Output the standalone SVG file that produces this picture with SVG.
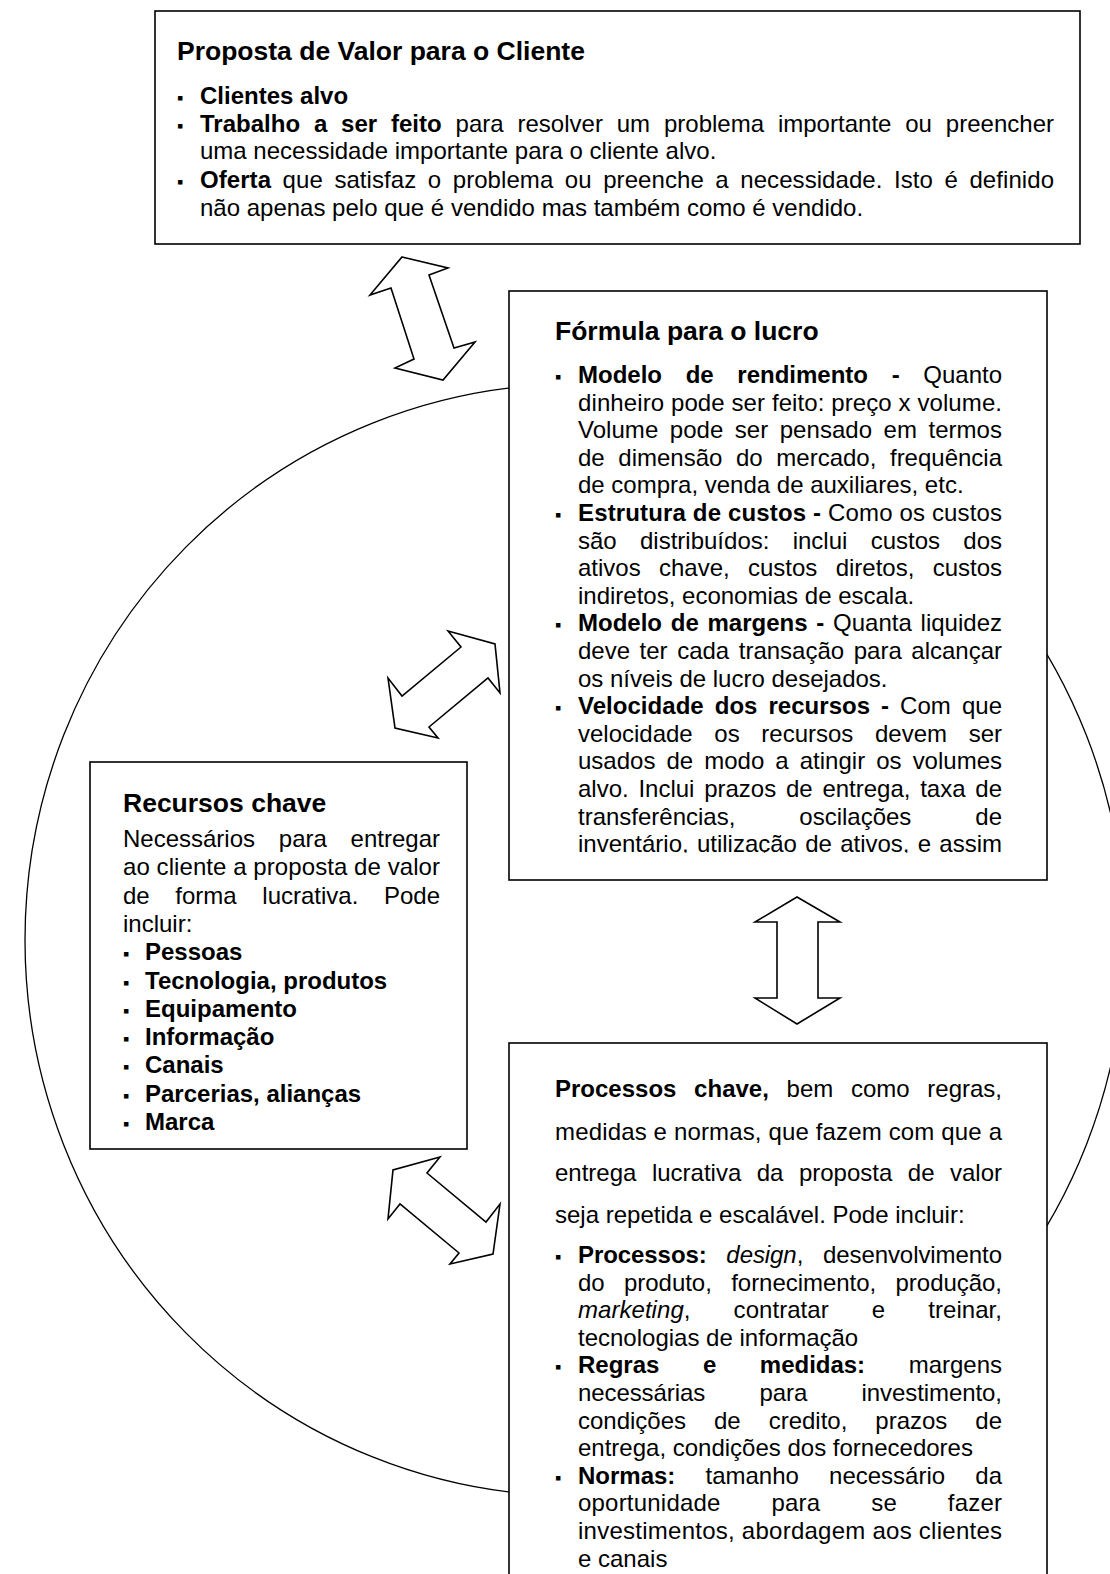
<svg xmlns="http://www.w3.org/2000/svg" width="1110" height="1574" viewBox="0 0 1110 1574">
  <style>
    .t{font-family:"Liberation Sans",Arial,sans-serif;font-size:24px;fill:#000}
    .b{font-weight:bold}
    .i{font-style:italic}
    .h{font-family:"Liberation Sans",Arial,sans-serif;font-size:26.5px;font-weight:bold;fill:#000}
    .bul{font-family:"Liberation Sans","DejaVu Sans",sans-serif;font-size:18px;fill:#000}
    .box{fill:#fff;stroke:#000;stroke-width:1.6}
    .arr{fill:#fff;stroke:#000;stroke-width:1.6;stroke-linejoin:miter}
    .ring{fill:none;stroke:#000;stroke-width:1.3}
  </style>
  <defs>
    <!-- the profit-formula text box clips its last line -->
    <clipPath id="clipFormula"><rect x="509" y="291" width="538" height="561.8"/></clipPath>
  </defs>

  <rect width="1110" height="1574" fill="#fff"/>

  <!-- large cycle behind the boxes -->
  <g id="cycle">
    <ellipse class="ring" cx="575" cy="940" rx="550" ry="556"/>
  </g>

  <!-- Customer value proposition -->
  <g id="node-proposta">
    <rect class="box" x="155" y="11" width="925" height="233" stroke-width="2"/>
    <text class="h" x="177" y="60">Proposta de Valor para o Cliente</text>
    <text class="bul" x="177" y="104">▪</text>
    <text class="t b" x="200" y="104">Clientes alvo</text>
    <text class="bul" x="177" y="131.5">▪</text>
    <text class="t" x="200" y="131.5" word-spacing="7.1" textLength="854" lengthAdjust="spacing"><tspan class="b">Trabalho a ser feito</tspan> para resolver um problema importante ou preencher</text>
    <text class="t" x="200" y="159">uma necessidade importante para o cliente alvo.</text>
    <text class="bul" x="177" y="188">▪</text>
    <text class="t" x="200" y="188" word-spacing="4.8" textLength="854" lengthAdjust="spacing"><tspan class="b">Oferta</tspan> que satisfaz o problema ou preenche a necessidade. Isto é definido</text>
    <text class="t" x="200" y="215.5">não apenas pelo que é vendido mas também como é vendido.</text>
  </g>

  <!-- Profit formula -->
  <g id="node-formula">
    <rect class="box" x="509" y="291" width="538" height="589"/>
    <text class="h" x="555" y="340">Fórmula para o lucro</text>
    <g clip-path="url(#clipFormula)">
      <text class="bul" x="555" y="383">▪</text>
      <text class="t" x="578" y="383" word-spacing="17" textLength="424" lengthAdjust="spacing"><tspan class="b">Modelo de rendimento -</tspan> Quanto</text>
      <text class="t" x="578" y="410.6" textLength="424" lengthAdjust="spacing">dinheiro pode ser feito: preço x volume.</text>
      <text class="t" x="578" y="438.2" word-spacing="4.8" textLength="424" lengthAdjust="spacing">Volume pode ser pensado em termos</text>
      <text class="t" x="578" y="465.8" word-spacing="7" textLength="424" lengthAdjust="spacing">de dimensão do mercado, frequência</text>
      <text class="t" x="578" y="493.4">de compra, venda de auxiliares, etc.</text>
      <text class="bul" x="555" y="521">▪</text>
      <text class="t" x="578" y="521" textLength="424" lengthAdjust="spacing"><tspan class="b">Estrutura de custos -</tspan> Como os custos</text>
      <text class="t" x="578" y="548.6" word-spacing="16.6" textLength="424" lengthAdjust="spacing">são distribuídos: inclui custos dos</text>
      <text class="t" x="578" y="576.2" word-spacing="11.6" textLength="424" lengthAdjust="spacing">ativos chave, custos diretos, custos</text>
      <text class="t" x="578" y="603.8">indiretos, economias de escala.</text>
      <text class="bul" x="555" y="631.4">▪</text>
      <text class="t" x="578" y="631.4" word-spacing="2.1" textLength="424" lengthAdjust="spacing"><tspan class="b">Modelo de margens -</tspan> Quanta liquidez</text>
      <text class="t" x="578" y="659" word-spacing="2.9" textLength="424" lengthAdjust="spacing">deve ter cada transação para alcançar</text>
      <text class="t" x="578" y="686.6">os níveis de lucro desejados.</text>
      <text class="bul" x="555" y="714.2">▪</text>
      <text class="t" x="578" y="714.2" word-spacing="4.3" textLength="424" lengthAdjust="spacing"><tspan class="b">Velocidade dos recursos -</tspan> Com que</text>
      <text class="t" x="578" y="741.8" word-spacing="15" textLength="424" lengthAdjust="spacing">velocidade os recursos devem ser</text>
      <text class="t" x="578" y="769.4" word-spacing="4.4" textLength="424" lengthAdjust="spacing">usados de modo a atingir os volumes</text>
      <text class="t" x="578" y="797" word-spacing="3.1" textLength="424" lengthAdjust="spacing">alvo. Inclui prazos de entrega, taxa de</text>
      <text class="t" x="578" y="824.6" word-spacing="57.3" textLength="424" lengthAdjust="spacing">transferências, oscilações de</text>
      <text class="t" x="578" y="852.2" word-spacing="1.6" textLength="424" lengthAdjust="spacing">inventário, utilização de ativos, e assim</text>
    </g>
  </g>

  <!-- Key resources -->
  <g id="node-recursos">
    <rect class="box" x="90" y="762" width="377" height="387"/>
    <text class="h" x="123" y="812">Recursos chave</text>
    <text class="t" x="123" y="847" word-spacing="17.1" textLength="317" lengthAdjust="spacing">Necessários para entregar</text>
    <text class="t" x="123" y="875.3" textLength="317" lengthAdjust="spacing">ao cliente a proposta de valor</text>
    <text class="t" x="123" y="903.6" word-spacing="19" textLength="317" lengthAdjust="spacing">de forma lucrativa. Pode</text>
    <text class="t" x="123" y="931.9">incluir:</text>
    <text class="bul" x="123" y="960.2">▪</text>
    <text class="t b" x="145" y="960.2">Pessoas</text>
    <text class="bul" x="123" y="988.5">▪</text>
    <text class="t b" x="145" y="988.5">Tecnologia, produtos</text>
    <text class="bul" x="123" y="1016.8">▪</text>
    <text class="t b" x="145" y="1016.8">Equipamento</text>
    <text class="bul" x="123" y="1045.1">▪</text>
    <text class="t b" x="145" y="1045.1">Informação</text>
    <text class="bul" x="123" y="1073.4">▪</text>
    <text class="t b" x="145" y="1073.4">Canais</text>
    <text class="bul" x="123" y="1101.7">▪</text>
    <text class="t b" x="145" y="1101.7">Parcerias, alianças</text>
    <text class="bul" x="123" y="1130">▪</text>
    <text class="t b" x="145" y="1130">Marca</text>
  </g>

  <!-- Key processes -->
  <g id="node-processos">
    <rect class="box" x="509" y="1043" width="538" height="545"/>
    <text class="t" x="555" y="1097" word-spacing="11" textLength="447" lengthAdjust="spacing"><tspan class="b">Processos chave,</tspan> bem como regras,</text>
    <text class="t" x="555" y="1139.5" textLength="447" lengthAdjust="spacing">medidas e normas, que fazem com que a</text>
    <text class="t" x="555" y="1181" word-spacing="8.8" textLength="447" lengthAdjust="spacing">entrega lucrativa da proposta de valor</text>
    <text class="t" x="555" y="1223">seja repetida e escalável. Pode incluir:</text>
    <text class="bul" x="555" y="1263">▪</text>
    <text class="t" x="578" y="1263" word-spacing="13.1" textLength="424" lengthAdjust="spacing"><tspan class="b">Processos:</tspan> <tspan class="i">design</tspan>, desenvolvimento</text>
    <text class="t" x="578" y="1290.6" word-spacing="12.8" textLength="424" lengthAdjust="spacing">do produto, fornecimento, produção,</text>
    <text class="t" x="578" y="1318.2" word-spacing="36.4" textLength="424" lengthAdjust="spacing"><tspan class="i">marketing</tspan>, contratar e treinar,</text>
    <text class="t" x="578" y="1345.8">tecnologias de informação</text>
    <text class="bul" x="555" y="1373.4">▪</text>
    <text class="t" x="578" y="1373.4" word-spacing="36.9" textLength="424" lengthAdjust="spacing"><tspan class="b">Regras e medidas:</tspan> margens</text>
    <text class="t" x="578" y="1401" word-spacing="47.8" textLength="424" lengthAdjust="spacing">necessárias para investimento,</text>
    <text class="t" x="578" y="1428.6" word-spacing="21.3" textLength="424" lengthAdjust="spacing">condições de credito, prazos de</text>
    <text class="t" x="578" y="1456.2">entrega, condições dos fornecedores</text>
    <text class="bul" x="555" y="1483.8">▪</text>
    <text class="t" x="578" y="1483.8" word-spacing="23.5" textLength="424" lengthAdjust="spacing"><tspan class="b">Normas:</tspan> tamanho necessário da</text>
    <text class="t" x="578" y="1511.4" word-spacing="44" textLength="424" lengthAdjust="spacing">oportunidade para se fazer</text>
    <text class="t" x="578" y="1539" textLength="424" lengthAdjust="spacing">investimentos, abordagem aos clientes</text>
    <text class="t" x="578" y="1566.6">e canais</text>
  </g>

  <!-- two-way block arrows linking the boxes -->
  <g id="connectors">
    <polygon class="arr" points="402,257 448,268 429,275 454,348 475,342 443,380 395,368 414,359 391,288 370,295"/>
    <polygon class="arr" points="448,631 495,644 500,693 488,678 429,727 438,738 395,728 388,678 402,696 461,647"/>
    <polygon class="arr" points="440,1157 393,1170 388,1219 400,1204 459,1253 450,1264 493,1254 500,1204 486,1222 427,1173"/>
    <polygon class="arr" points="797,897 840,922 818,922 818,998 840,998 797,1024 755,998 777,998 777,922 755,922"/>
  </g>
</svg>
